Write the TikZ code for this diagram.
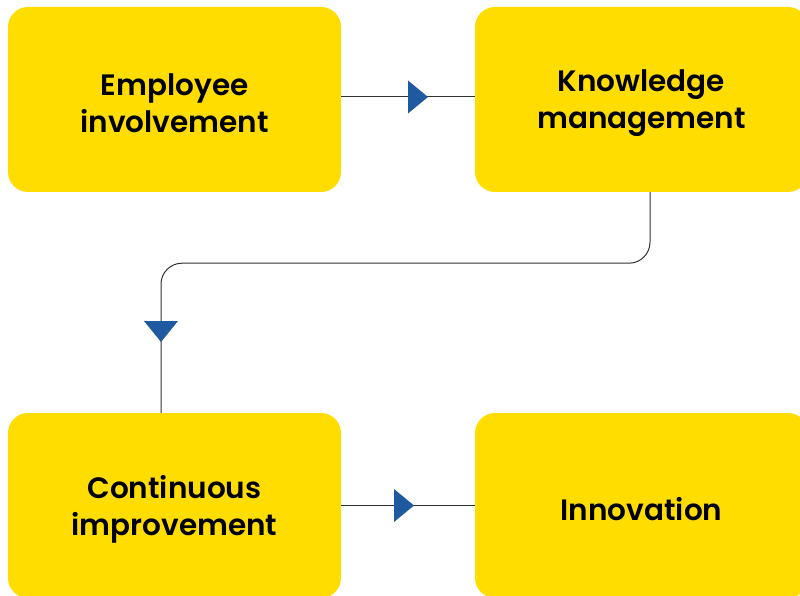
\documentclass[tikz,border=0pt]{standalone}
\usepackage{fontspec}
\setmainfont{Poppins}[BoldFont=Poppins SemiBold]
\usetikzlibrary{calc}
\definecolor{boxyellow}{HTML}{FFDD00}
\definecolor{arrowblue}{HTML}{1F5AA0}
\definecolor{linegray}{HTML}{333333}
\begin{document}
\begin{tikzpicture}[x=1pt,y=-1pt,
  box/.style={fill=boxyellow, rounded corners=20pt, minimum width=333pt, minimum height=185pt, inner sep=0pt},
  lbl/.style={align=center, inner sep=0pt, font=\fontsize{29.5}{37}\selectfont\bfseries, text=black},
  conn/.style={draw=linegray, line width=1pt},
  tri/.style={fill=arrowblue}]
\useasboundingbox (0,0) rectangle (800,596);
\node[box] (b1) at (174.5,99.5) {};
\node[box] (b2) at (641.5,99.5) {};
\node[box] (b3) at (174.5,505.5) {};
\node[box] (b4) at (641.5,505.5) {};
\node[lbl] (t1) at ([yshift=-4pt]b1.center) {Employee\\involvement};
\node[lbl] (t2) at ([yshift=-4pt]b2.center) {Knowledge\\management};
\node[lbl] (t3) at ([yshift=-4pt]b3.center) {Continuous\\improvement};
\node[lbl] (t4) at ([yshift=-4pt]b4.center) {Innovation};
% top connector
\draw[conn] ([yshift=2.5pt]b1.east) -- ([yshift=2.5pt]b2.west);
\fill[tri] ($([yshift=2.5pt]b1.east)!0.5!([yshift=2.5pt]b2.west)$) ++(0,-16.5) -- ++(20,16.5) -- ++(-20,16.5) -- cycle;
% bottom connector
\draw[conn] (b3.east) -- (b4.west);
\fill[tri] ($(b3.east)!0.5!(b4.west)$) ++(-14,-16.5) -- ++(20,16.5) -- ++(-20,16.5) -- cycle;
% vertical connector
\draw[conn, rounded corners=21pt] ([xshift=8.5pt]b2.south) -- ++(0,71) -| ([xshift=-13.5pt]b3.north);
\fill[tri] (144,321) -- (178,321) -- (161,342) -- cycle;
\end{tikzpicture}
\end{document}
